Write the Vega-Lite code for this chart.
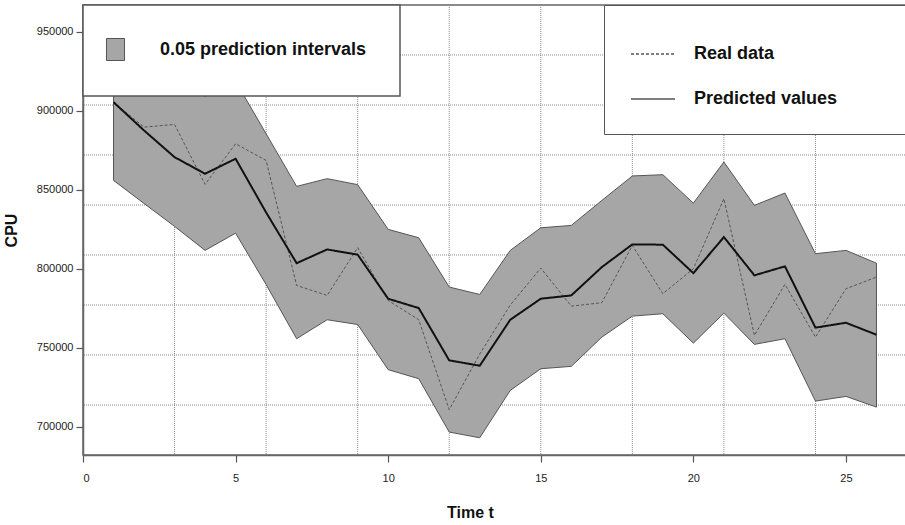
{
  "$schema": "https://vega.github.io/schema/vega-lite/v6.json",
  "width": 824,
  "height": 450,
  "autosize": "none",
  "padding": {"left": 83, "top": 5, "right": 0, "bottom": 70},
  "background": "white",
  "config": {
    "view": {"stroke": "#666", "strokeWidth": 1.5},
    "axis": {
      "labelFont": "Liberation Sans",
      "labelFontSize": 11,
      "labelColor": "#222222",
      "titleFont": "Liberation Sans",
      "titleFontSize": 16,
      "titleFontWeight": "bold",
      "titleColor": "#111",
      "domainColor": "#666",
      "domainWidth": 1.5,
      "tickColor": "#555",
      "tickWidth": 1.2,
      "tickSize": 7,
      "grid": false
    },
    "legend": {
      "labelFont": "Liberation Sans",
      "labelFontSize": 18,
      "labelFontWeight": "bold",
      "labelColor": "#111",
      "labelLimit": 400,
      "fillColor": "white",
      "strokeColor": "#555",
      "orient": "none"
    }
  },
  "datasets": {
    "series": [
      {"t": 1, "lower": 855900, "upper": 955000, "pred": 905400, "real": 905400},
      {"t": 2, "lower": 841300, "upper": 936500, "pred": 887500, "real": 889600},
      {"t": 3, "lower": 826800, "upper": 919600, "pred": 870600, "real": 891300},
      {"t": 4, "lower": 811600, "upper": 909000, "pred": 860100, "real": 853400},
      {"t": 5, "lower": 822500, "upper": 918600, "pred": 869600, "real": 879100},
      {"t": 6, "lower": 790000, "upper": 885400, "pred": 835600, "real": 868500},
      {"t": 7, "lower": 755700, "upper": 852100, "pred": 803500, "real": 789400},
      {"t": 8, "lower": 767700, "upper": 857000, "pred": 812200, "real": 783100},
      {"t": 9, "lower": 764700, "upper": 853200, "pred": 808900, "real": 813300},
      {"t": 10, "lower": 736100, "upper": 824900, "pred": 781000, "real": 779900},
      {"t": 11, "lower": 730400, "upper": 819600, "pred": 775100, "real": 767700},
      {"t": 12, "lower": 696600, "upper": 788400, "pred": 742000, "real": 710800},
      {"t": 13, "lower": 693000, "upper": 783700, "pred": 738600, "real": 746000},
      {"t": 14, "lower": 723000, "upper": 811600, "pred": 767700, "real": 777000},
      {"t": 15, "lower": 736700, "upper": 825900, "pred": 781000, "real": 800400},
      {"t": 16, "lower": 738200, "upper": 827400, "pred": 783100, "real": 776300},
      {"t": 17, "lower": 756700, "upper": 843200, "pred": 801000, "real": 778500},
      {"t": 18, "lower": 770000, "upper": 858700, "pred": 815400, "real": 814700},
      {"t": 19, "lower": 771500, "upper": 859500, "pred": 815200, "real": 784200},
      {"t": 20, "lower": 752900, "upper": 841500, "pred": 797200, "real": 800000},
      {"t": 21, "lower": 771900, "upper": 867500, "pred": 820000, "real": 844300},
      {"t": 22, "lower": 752100, "upper": 840100, "pred": 795800, "real": 757800},
      {"t": 23, "lower": 755700, "upper": 847900, "pred": 801500, "real": 790100},
      {"t": 24, "lower": 716200, "upper": 809500, "pred": 762700, "real": 756700},
      {"t": 25, "lower": 719200, "upper": 811600, "pred": 765800, "real": 787300},
      {"t": 26, "lower": 712400, "upper": 803500, "pred": 758200, "real": 794700}
    ],
    "gridX": [
      {"gx": 3}, {"gx": 6}, {"gx": 9}, {"gx": 12},
      {"gx": 15}, {"gx": 18}, {"gx": 21}, {"gx": 24}
    ],
    "gridY": [
      {"gy": 713744}, {"gy": 745389}, {"gy": 777033}, {"gy": 808678},
      {"gy": 840322}, {"gy": 871967}, {"gy": 903611}, {"gy": 935256}
    ]
  },
  "layer": [
    {
      "data": {"name": "gridX"},
      "mark": {"type": "rule", "stroke": "#8a8a8a", "strokeWidth": 1, "strokeDash": [1, 1]},
      "encoding": {
        "x": {
          "field": "gx", "type": "quantitative",
          "scale": {"domain": [0, 27], "nice": false, "zero": false},
          "axis": {"values": [0, 5, 10, 15, 20, 25], "title": "Time t", "labelPadding": 10, "titleX": 387, "titleY": 57, "titleBaseline": "middle"}
        }
      }
    },
    {
      "data": {"name": "gridY"},
      "mark": {"type": "rule", "stroke": "#8a8a8a", "strokeWidth": 1, "strokeDash": [1, 1]},
      "encoding": {
        "y": {
          "field": "gy", "type": "quantitative",
          "scale": {"domain": [682100, 966900], "nice": false, "zero": false},
          "axis": {"values": [700000, 750000, 800000, 850000, 900000, 950000], "format": "d", "title": "CPU", "labelPadding": 3, "titlePadding": 17}
        }
      }
    },
    {
      "data": {"name": "series"},
      "mark": {"type": "area", "stroke": "#555", "strokeWidth": 1},
      "encoding": {
        "x": {
          "field": "t", "type": "quantitative",
          "axis": {"values": [0, 5, 10, 15, 20, 25], "title": "Time t", "labelPadding": 10, "titleX": 387, "titleY": 57, "titleBaseline": "middle"}
        },
        "y": {
          "field": "upper", "type": "quantitative",
          "axis": {"values": [700000, 750000, 800000, 850000, 900000, 950000], "format": "d", "title": "CPU", "labelPadding": 3, "titlePadding": 17}
        },
        "y2": {"field": "lower"},
        "fill": {
          "datum": "0.05 prediction intervals", "type": "nominal",
          "scale": {"range": ["#a6a6a6"]},
          "legend": {
            "title": null,
            "legendX": 0,
            "legendY": 0,
            "padding": 33,
            "symbolOffset": -12,
            "symbolType": "M-0.82,-1H0.82V1H-0.82Z",
            "symbolSize": 484,
            "symbolStrokeColor": "#555",
            "symbolStrokeWidth": 1,
            "symbolFillColor": "#a6a6a6",
            "labelOffset": 33,
            "encode": {"legend": {"update": {"strokeWidth": {"value": 1.5}}}}
          }
        }
      }
    },
    {
      "data": {"name": "series"},
      "mark": {"type": "line", "stroke": "#555", "strokeWidth": 1, "strokeDash": [3, 2]},
      "encoding": {
        "x": {"field": "t", "type": "quantitative", "title": "Time t"},
        "y": {"field": "real", "type": "quantitative", "title": "CPU"},
        "strokeDash": {
          "datum": "Real data", "type": "nominal",
          "scale": {"domain": ["Real data", "Predicted values"], "range": [[3, 2], [1, 0]]},
          "legend": {
            "title": "\u00a0",
            "titleOrient": "right",
            "titlePadding": 60,
            "legendX": 521,
            "legendY": 0,
            "padding": 26,
            "rowPadding": 13,
            "symbolType": "stroke",
            "symbolSize": 1936,
            "labelOffset": 18,
            "encode": {
              "legend": {"update": {"strokeWidth": {"value": 1.5}}},
              "symbols": {"update": {
                "stroke": [{"test": "datum.value === 'Predicted values'", "value": "#111"}, {"value": "#555"}],
                "strokeWidth": [{"test": "datum.value === 'Predicted values'", "value": 2}, {"value": 1}]
              }}
            }
          }
        }
      }
    },
    {
      "data": {"name": "series"},
      "mark": {"type": "line", "stroke": "#111", "strokeWidth": 2},
      "encoding": {
        "x": {"field": "t", "type": "quantitative", "title": "Time t"},
        "y": {"field": "pred", "type": "quantitative", "title": "CPU"},
        "strokeDash": {"datum": "Predicted values", "type": "nominal"}
      }
    }
  ]
}
